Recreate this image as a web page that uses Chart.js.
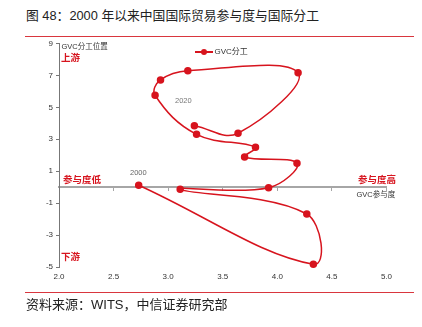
<!DOCTYPE html>
<html lang="zh-CN">
<head>
    <meta charset="UTF-8">
    <title>图 48</title>
    <script src="https://cdn.jsdelivr.net/npm/chart.js"></script>
    <style>
        body { margin: 0; background: #fff; }
        #wrap { position: relative; width: 422px; height: 327px; overflow: hidden;
                font-family: "Liberation Sans", "Noto Sans CJK SC", sans-serif; }
        #chart { position: absolute; left: 0; top: 0; }
        .t { position: absolute; white-space: nowrap; line-height: 1; }
        .rule { position: absolute; left: 25px; width: 389px; height: 1px; background: #d9363e; }
        .red { color: #d7141e; font-weight: bold; font-family: "Noto Sans CJK SC", sans-serif; font-size: 9.5px; }
        .note { color: #333; font-size: 7.5px; }
    </style>
</head>
<body>
<div id="wrap">
    <div class="t" style="left:26px; top:10px; font-size:12.8px; color:#222;">图 48：2000 年以来中国国际贸易参与度与国际分工</div>
    <div class="rule" style="top:36px;"></div>

    <canvas id="chart" width="422" height="327"></canvas>

    <!-- legend -->
    <div class="t" style="left:195px; top:51px; width:18px; height:1.5px; background:#d7141e;"></div>
    <div class="t" style="left:200.5px; top:49px; width:6px; height:6px; border-radius:50%; background:#d7141e;"></div>
    <div class="t note" style="left:214.5px; top:48px; font-size:8px;">GVC分工</div>

    <!-- annotations -->
    <div class="t note" style="left:61.5px; top:43px;">GVC分工位置</div>
    <div class="t red" style="left:61px; top:53px;">上游</div>
    <div class="t red" style="left:61px; top:252px;">下游</div>
    <div class="t red" style="left:63px; top:175px;">参与度低</div>
    <div class="t red" style="left:358px; top:175px;">参与度高</div>
    <div class="t note" style="left:356.5px; top:190.5px;">GVC参与度</div>
    <div class="t note" style="left:130px; top:169px; color:#666;">2000</div>
    <div class="t note" style="left:175px; top:97px; color:#777;">2020</div>

    <div class="rule" style="top:292px;"></div>
    <div class="t" style="left:26px; top:297.5px; font-size:13px; color:#222;">资料来源：WITS，中信证券研究部</div>
</div>

<script>
    // GVC参与度 (x) 与 GVC分工位置 (y)，2000 -> 2020
    const gvcParticipation = [2.73, 4.33, 4.27, 3.11, 3.92, 4.18, 3.70, 3.80, 3.26, 2.88, 2.93, 3.18, 4.19, 3.64, 3.24];
    const gvcPosition      = [0.12, -4.83, -1.68, -0.13, -0.03, 1.50, 1.89, 2.50, 3.31, 5.76, 6.72, 7.30, 7.17, 3.38, 3.85];

    const xTicks = [2.0, 2.5, 3.0, 3.5, 4.0, 4.5, 5.0];
    const yTicks = [-5, -3, -1, 1, 3, 5, 7, 9];

    const red = '#d7141e';
    const axisGray = '#a6a6a6';

    const points = gvcParticipation.map((x, i) => ({ x: x, y: gvcPosition[i] }));

    new Chart(document.getElementById('chart'), {
        type: 'scatter',
        data: {
            datasets: [{
                label: 'GVC分工',
                data: points,
                showLine: true,
                borderColor: red,
                backgroundColor: red,
                borderWidth: 1.5,
                pointRadius: 3,
                pointHoverRadius: 3,
                tension: 0.4,
                clip: false
            }]
        },
        options: {
            responsive: false,
            animation: false,
            events: [],
            layout: { padding: { left: 39, right: 35.5, top: 43.5, bottom: 40 } },
            plugins: {
                legend: { display: false },
                tooltip: { enabled: false }
            },
            scales: {
                x: {
                    type: 'linear',
                    position: 'bottom',
                    min: xTicks[0],
                    max: xTicks[xTicks.length - 1],
                    afterBuildTicks: s => { s.ticks = xTicks.map(v => ({ value: v })); },
                    afterFit: s => { s.height = 20; },
                    grid: { display: false, drawTicks: false },
                    border: { display: false },
                    ticks: {
                        padding: 5,
                        color: '#333',
                        font: { family: 'Liberation Sans', size: 8 },
                        callback: v => Number(v).toFixed(1)
                    }
                },
                x0: {
                    type: 'linear',
                    axis: 'x',
                    position: { y: 0 },
                    min: xTicks[0],
                    max: xTicks[xTicks.length - 1],
                    afterBuildTicks: s => { s.ticks = xTicks.map(v => ({ value: v })); },
                    grid: { drawOnChartArea: false, tickLength: 3, color: axisGray },
                    border: { color: axisGray, width: 2 },
                    ticks: { display: false }
                },
                y: {
                    type: 'linear',
                    min: yTicks[0],
                    max: yTicks[yTicks.length - 1],
                    afterBuildTicks: s => { s.ticks = yTicks.map(v => ({ value: v })); },
                    afterFit: s => { s.width = 20; },
                    grid: { drawOnChartArea: false, tickLength: 3, color: '#777' },
                    border: { color: '#777', width: 1 },
                    ticks: {
                        padding: 3,
                        color: '#333',
                        font: { family: 'Liberation Sans', size: 8 }
                    }
                }
            }
        }
    });
</script>
</body>
</html>
